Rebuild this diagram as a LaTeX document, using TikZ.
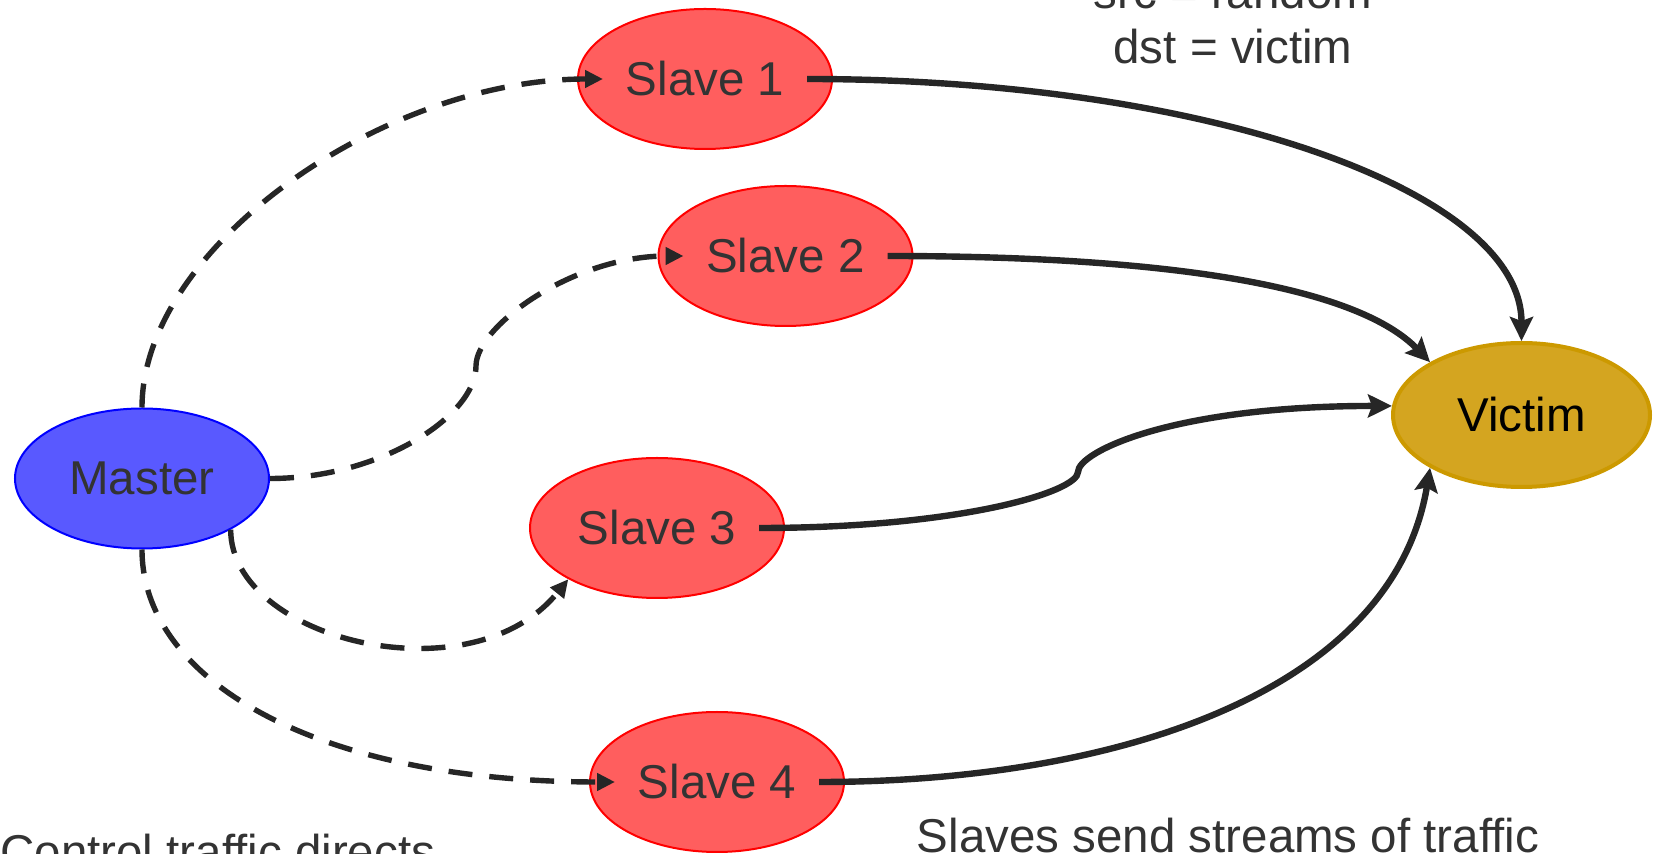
\documentclass[tikz,border=0pt]{standalone}
\usepackage{fontspec}
\setmainfont{Liberation Sans}
\usepackage{tikz}
\usetikzlibrary{arrows.meta,shapes.geometric}

\definecolor{victimfill}{RGB}{212,165,32}
\definecolor{victimline}{RGB}{204,153,0}

\tikzset{
  big/.style={font=\fontsize{23.75pt}{27.5pt}\selectfont},
  host/.style={ellipse,inner sep=0pt,minimum width=127pt,minimum height=70pt,
    line width=1pt,text=black!80,big},
  master/.style={host,draw=blue,fill=blue!65},
  slave/.style={host,draw=red,fill=red!63},
  victim/.style={host,draw=victimline,fill=victimfill,line width=2pt,
    minimum width=128.5pt,minimum height=72pt,text=black},
  ctrl/.style={draw=black!85,line width=2.7pt,dash pattern=on 12pt off 8.5pt,
    -{Triangle[length=9pt,width=8.5pt]}},
  flood/.style={draw=black!85,line width=3.2pt,
    -{Stealth[length=12pt,width=11.5pt,inset=2pt]}},
  note/.style={inner sep=0pt,text=black!80,big,align=center}
}

\begin{document}
\begin{tikzpicture}[x=0.5pt,y=-0.5pt]
\useasboundingbox (0,0) rectangle (1655,854) ;
\clip (0,0) rectangle (1655,854) ;

\node[master] (m) at (142,478.5) {Master} ;
\node[slave] (s1) at (705,79) {Slave 1} ;
\node[slave] (s2) at (785.5,256) {Slave 2} ;
\node[slave] (s3) at (657,528) {Slave 3} ;
\node[slave] (s4) at (717,782) {Slave 4} ;
\node[victim] (v) at (1521.5,415) {Victim} ;

\coordinate (bend2) at (476,366) ;
\coordinate (bend3) at (1078,472) ;

\draw[ctrl] (m.north) .. controls +(0,-160) and +(-220,0) .. ([xshift=-51pt]s1.center) ;
\draw[ctrl] (m.east) .. controls +(110,0) and +(0,50) .. (bend2)
  .. controls +(0,-40) and +(-110,0) .. ([xshift=-51pt]s2.center) ;
\draw[ctrl] (m.-30) .. controls +(0,110) and +(-97,120) .. (s3.210) ;
\draw[ctrl] (m.south) .. controls +(0,130) and +(-300,0) .. ([xshift=-51pt]s4.center) ;

\draw[flood] ([xshift=51pt]s1.center) .. controls +(400,0) and +(0,-150) .. (v.north) ;
\draw[flood] ([xshift=51pt]s2.center) .. controls +(300,0) and +(-70,-72) .. (v.150) ;
\draw[flood] ([xshift=51pt]s3.center) .. controls +(200,0) and +(0,20) .. (bend3)
  .. controls +(0,-20) and +(-220,0) .. (v.176) ;
\draw[flood] ([xshift=51pt]s4.center) .. controls +(300,0) and +(-37,223) .. (v.210) ;

\node[note,anchor=south] (spoof) at (1233,64) {src = random\\dst = victim} ;
\node[note,anchor=base west] (ctl) at (0,869) {Control traffic directs} ;
\node[note,anchor=base] (flow) at (1228,853) {Slaves send streams of traffic} ;
\end{tikzpicture}
\end{document}
